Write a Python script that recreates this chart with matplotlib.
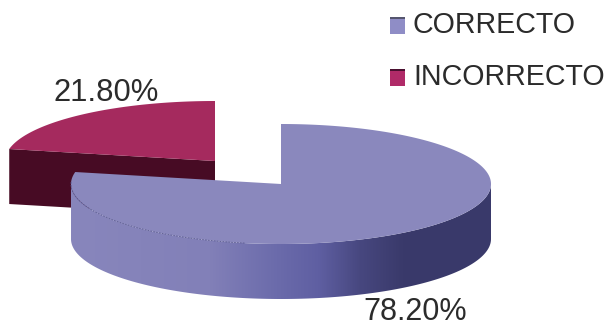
import numpy as np
import matplotlib.pyplot as plt
from matplotlib.colors import LinearSegmentedColormap
from matplotlib.patches import Polygon, Rectangle

plt.rcParams['font.family'] = 'Liberation Sans'

labels = ['CORRECTO', 'INCORRECTO']
shares = [78.2, 21.8]
value_text = ['78.20%', '21.80%']

top_colors = ['#8a88bd', '#a52a5e']
wall_dark = '#470b24'
text_color = '#2b2b2b'

rx = 210.0
ry = 60.0
depth = 55.0


def rim(cx, cy, a0, a1, n=200):
    # angles in degrees, clockwise starting from twelve o'clock
    t = np.radians(np.linspace(a0, a1, n))
    return np.column_stack([cx + rx*np.sin(t), cy - ry*np.cos(t)])


fig = plt.figure(figsize=(6.08, 3.26), dpi=100)
ax = fig.add_axes([0, 0, 1, 1])
ax.axis('off')

end_blue = shares[0]/100*360

################################################################ exploded slice
cx_r, cy_r = 215.0, 161.0
edge = rim(cx_r, cy_r, end_blue, 360)
wall = [edge[0], (cx_r, cy_r), (cx_r, cy_r+depth), (edge[0][0], edge[0][1]+depth)]
ax.add_patch(Polygon(wall, fc=wall_dark, ec='none', zorder=1))
ax.add_patch(Polygon(np.vstack([[(cx_r, cy_r)], edge]), fc=top_colors[1], ec='none', zorder=2))

################################################################ main slice
cx_b, cy_b = 281.0, 184.0
shade = LinearSegmentedColormap.from_list('side', [
    (0.00, '#8886bc'), (0.33, '#8280b8'), (0.49, '#6b6bab'),
    (0.59, '#5f5fa2'), (0.69, '#47477f'), (0.79, '#3a3a6b'), (1.00, '#39396a')])

# front wall: horizontal gradient clipped to the wall outline
front = rim(cx_b, cy_b, 90, 270, 400)
outline = np.vstack([front, front[::-1] + [0, depth]])
wall_patch = Polygon(outline, fc='none', ec='none', transform=ax.transData)
ax.add_patch(wall_patch)
im = ax.imshow(np.linspace(0, 1, 512)[None, :], cmap=shade, aspect='auto',
               extent=(cx_b-rx, cx_b+rx, 300, 170), zorder=3, interpolation='bilinear')
im.set_clip_path(wall_patch)

edge = rim(cx_b, cy_b, 0, end_blue, 400)
ax.add_patch(Polygon(np.vstack([[(cx_b, cy_b)], edge]), fc=top_colors[0], ec='none', zorder=4))

# thin seam along the light part of the front edge
seam = rim(cx_b, cy_b, 190, 272)
ax.plot(seam[:, 0], seam[:, 1], color='#5a5a90', lw=0.6, ls=(0, (2, 1.5)), zorder=5)

################################################################ text
ax.text(415, 319.5, value_text[0], fontsize=22, color=text_color,
        ha='center', va='baseline', zorder=6)
ax.text(106, 101, value_text[1], fontsize=22.3, color=text_color,
        ha='center', va='baseline', zorder=6)

legend_y = [25, 77]
legend_face = ['#8f8dc6', '#b02a68']
legend_top = ['#55556f', '#4a1030']
for y, name, face, strip in zip(legend_y, labels, legend_face, legend_top):
    ax.add_patch(Rectangle((390, y-8.5), 15, 17, fc=face, ec='none', zorder=6))
    ax.add_patch(Rectangle((390, y-8.5), 15, 2.5, fc=strip, ec='none', zorder=7))
    ax.text(413, y, name, fontsize=20.6, color=text_color, ha='left', va='center', zorder=6)

ax.set_xlim(0, 608)
ax.set_ylim(326, 0)
fig.savefig('out.png', dpi=100)
